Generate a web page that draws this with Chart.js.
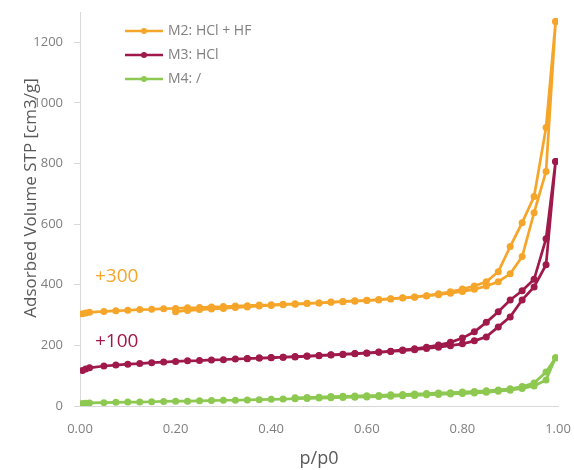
<!DOCTYPE html>
<html>
<head>
<meta charset="utf-8">
<script src="https://cdn.jsdelivr.net/npm/chart.js@4.4.1/dist/chart.umd.min.js"></script>
<style>
  html, body { margin: 0; padding: 0; background: #fff; }
  #wrap { width: 574px; height: 470px; }
</style>
</head>
<body>
<div id="wrap"><canvas id="iso-chart" width="574" height="470"></canvas></div>
<script>
// relative pressure, adsorption branch (shared by all samples)
const pressureAds = [0.005, 0.012, 0.02, 0.05, 0.075, 0.10, 0.125, 0.15, 0.175, 0.20,
  0.225, 0.25, 0.275, 0.30, 0.325, 0.35, 0.375, 0.40, 0.425, 0.45,
  0.475, 0.50, 0.525, 0.55, 0.575, 0.60, 0.625, 0.65, 0.675, 0.70,
  0.725, 0.75, 0.775, 0.80, 0.825, 0.85, 0.875, 0.90, 0.925, 0.95,
  0.975, 0.995];
// relative pressure, desorption branch (each sample uses the first n points)
const pressureDes = [0.995, 0.975, 0.95, 0.925, 0.90, 0.875, 0.85, 0.825, 0.80, 0.775,
  0.75, 0.725, 0.70, 0.675, 0.65, 0.625, 0.60, 0.575, 0.55, 0.525,
  0.50, 0.475, 0.45, 0.425, 0.40, 0.375, 0.35, 0.325, 0.30, 0.275,
  0.25, 0.225, 0.20];

// M2: HCl + HF (plotted with +300 offset)
const m2Ads = [304, 307, 309, 312, 314, 316, 318, 319, 321, 322,
  324, 325, 327, 328, 330, 331, 333, 334, 336, 337,
  339, 340, 342, 344, 346, 348, 350, 353, 356, 359,
  363, 367, 372, 378, 385, 396, 410, 436, 493, 638,
  774, 1269];
const m2Des = [1269, 919, 691, 605, 526, 443, 410, 396, 386, 377,
  370, 364, 360, 357, 354, 351, 349, 347, 345, 343,
  340, 338, 336, 334, 332, 330, 327, 325, 322, 320,
  318, 315, 311];

// M3: HCl (plotted with +100 offset)
const m3Ads = [117, 122, 126, 132, 135, 138, 140, 143, 145, 147,
  149, 150, 152, 153, 155, 156, 158, 159, 161, 162,
  164, 166, 168, 170, 172, 174, 177, 180, 183, 186,
  190, 194, 199, 205, 215, 228, 261, 294, 350, 393,
  466, 807];
const m3Des = [807, 552, 418, 380, 350, 311, 276, 245, 224, 210,
  201, 194, 189, 185, 181, 178, 175, 173, 171, 169,
  167, 165, 163, 161, 160, 158, 157];

// M4: /
const m4Ads = [8, 9, 10, 11, 12, 13, 13, 14, 15, 16,
  16, 17, 18, 19, 19, 20, 21, 22, 23, 24,
  25, 26, 27, 28, 29, 30, 31, 32, 34, 35,
  37, 38, 40, 41, 43, 45, 49, 52, 58, 66,
  86, 159];
const m4Des = [159, 112, 76, 64, 57, 53, 50, 48, 46, 44,
  43, 41, 40, 38, 37, 35, 34, 33, 32, 31,
  29, 28, 27];

const yTicks = [0, 200, 400, 600, 800, 1000, 1200];

const seriesNames = ['M2: HCl + HF', 'M3: HCl', 'M4: /'];
const seriesColors = ['#F5A62A', '#A0194B', '#8DC850'];
const offsetLabels = ['+300', '+100'];

function isotherm(ads, des) {
  const pts = ads.map((v, i) => ({ x: pressureAds[i], y: v }));
  des.forEach((v, i) => pts.push({ x: pressureDes[i], y: v }));
  return pts;
}

const seriesData = [isotherm(m2Ads, m2Des), isotherm(m3Ads, m3Des), isotherm(m4Ads, m4Des)];

const font = '"Open Sans", "Liberation Sans", sans-serif';

// legend, y title and offset labels drawn at fixed spots like the original
const overlayPlugin = {
  id: 'overlay',
  afterDraw(chart) {
    const ctx = chart.ctx;
    ctx.save();
    // legend
    const rows = [31, 55, 79];
    seriesNames.forEach((name, i) => {
      ctx.strokeStyle = seriesColors[i];
      ctx.lineWidth = 2.5;
      ctx.beginPath();
      ctx.moveTo(125, rows[i]);
      ctx.lineTo(163, rows[i]);
      ctx.stroke();
      ctx.fillStyle = seriesColors[i];
      ctx.beginPath();
      ctx.arc(144, rows[i], 3, 0, Math.PI * 2);
      ctx.fill();
      ctx.fillStyle = '#808080';
      ctx.font = '14px ' + font;
      ctx.textAlign = 'left';
      ctx.textBaseline = 'middle';
      ctx.fillText(name, 168, rows[i]);
    });
    // offsets
    ctx.font = '19px ' + font;
    ctx.fillStyle = seriesColors[0];
    ctx.fillText(offsetLabels[0], 95, 277);
    ctx.fillStyle = seriesColors[1];
    ctx.fillText(offsetLabels[1], 95, 342);
    // y axis title
    ctx.translate(31, 198);
    ctx.rotate(-Math.PI / 2);
    ctx.textAlign = 'center';
    ctx.fillStyle = '#595959';
    ctx.font = '17px ' + font;
    ctx.fillText('Adsorbed Volume STP [cm3/g]', 0, 0);
    ctx.restore();
  }
};

const ctx = document.getElementById('iso-chart').getContext('2d');

new Chart(ctx, {
  type: 'line',
  data: {
    datasets: seriesData.map((pts, i) => ({
      label: seriesNames[i],
      data: pts,
      borderColor: seriesColors[i],
      backgroundColor: seriesColors[i],
      pointBackgroundColor: seriesColors[i],
      pointBorderWidth: 0,
      pointRadius: 3.5,
      borderWidth: 2.7,
      tension: 0,
      fill: false
    }))
  },
  options: {
    responsive: false,
    animation: false,
    layout: { padding: { top: 12, right: 16, left: 0, bottom: 0 } },
    plugins: {
      legend: { display: false },
      tooltip: { enabled: false }
    },
    scales: {
      x: {
        type: 'linear',
        min: 0,
        max: 1,
        afterFit(scale) {
          scale.height = 64;
          scale.paddingLeft = 0;
          scale.paddingRight = 0;
        },
        border: { color: '#d9d9d9', width: 1 },
        grid: { drawOnChartArea: false, drawTicks: false },
        ticks: {
          stepSize: 0.2,
          padding: 15,
          color: '#7f7f7f',
          font: { family: font, size: 13 },
          callback: v => v.toFixed(2)
        },
        title: {
          display: true,
          text: 'p/p0',
          color: '#595959',
          font: { family: font, size: 18 },
          padding: { top: 0, bottom: 0 }
        }
      },
      y: {
        type: 'linear',
        min: 0,
        max: 1300,
        afterFit(scale) {
          scale.width = 80;
          scale.paddingTop = 0;
          scale.paddingBottom = 0;
        },
        afterBuildTicks(scale) {
          scale.ticks = yTicks.map(v => ({ value: v }));
        },
        border: { color: '#d9d9d9', width: 1 },
        grid: { drawOnChartArea: false, tickLength: 6, color: '#d9d9d9' },
        ticks: {
          padding: 11,
          color: '#7f7f7f',
          font: { family: font, size: 13 },
          callback: v => String(v)
        }
      }
    }
  },
  plugins: [overlayPlugin]
});
</script>
</body>
</html>
